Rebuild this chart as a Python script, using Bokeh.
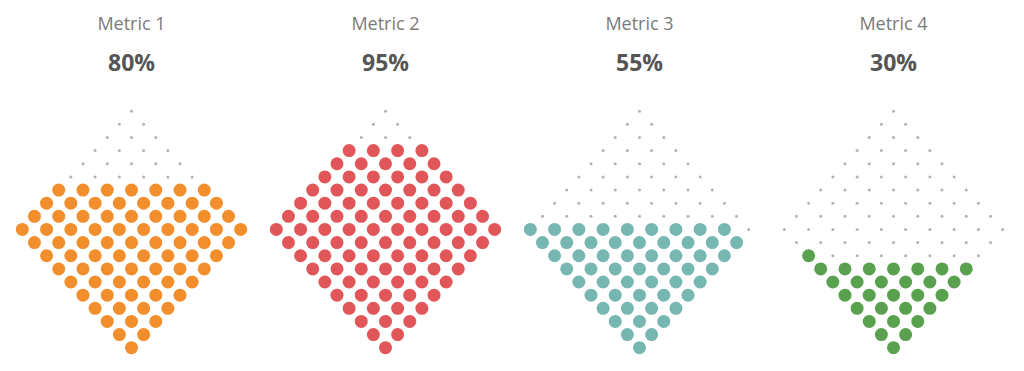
from bokeh.plotting import figure
from bokeh.models import Range1d, ColumnDataSource
from bokeh.core.properties import value
from bokeh.embed import file_html
from bokeh.resources import INLINE

# ---- data ----
metrics = ["Metric 1", "Metric 2", "Metric 3", "Metric 4"]
percents = [80, 95, 55, 30]
colors = ["#F28E2B", "#E15759", "#76B7B2", "#59A14F"]
empty_color = "#BAB0AC"

# ---- layout constants (pixels) ----
W, H = 1008, 355
CX0, STEP = 131, 254          # first panel centre, panel spacing
DX, DY = 12.13, 13.14         # half column step, row step
TOP_Y = 110.7                 # y of the top dot
N = 10                        # widest row -> 100 dots

p = figure(width=W, height=H, output_backend="svg", toolbar_location=None,
           x_range=Range1d(0, W), y_range=Range1d(H, 0),
           min_border=0, outline_line_color=None)
p.axis.visible = False
p.grid.visible = False
p.background_fill_color = "white"
p.border_fill_color = "white"

# rows from bottom: 1,2,...,10,...,2,1 ; filled bottom-up, left to right
row_counts = list(range(1, N + 1)) + list(range(N - 1, 0, -1))  # top to bottom
nrows = len(row_counts)

fx, fy, fc, ex, ey = [], [], [], [], []
for i, (name, pct, col) in enumerate(zip(metrics, percents, colors)):
    cx = CX0 + i * STEP
    idx = 0
    for r in range(nrows - 1, -1, -1):       # bottom row first
        k = row_counts[r]
        y = TOP_Y + r * DY
        for j in range(k):
            x = cx + (2 * j - (k - 1)) * DX
            if idx + 1 < pct:
                fx.append(x); fy.append(y); fc.append(col)
            else:
                ex.append(x); ey.append(y)
            idx += 1

p.scatter(ex, ey, size=3, color=empty_color, line_color=None)
p.scatter(x="x", y="y", color="c", size=13, line_color=None,
          source=ColumnDataSource(dict(x=fx, y=fy, c=fc)))

cxs = [CX0 + i * STEP for i in range(len(metrics))]
p.text(x=cxs, y=[22] * 4, text=metrics, text_align="center", text_baseline="middle",
       text_font=value("Open Sans"), text_font_size="18px", text_color="#7a7a7a")
p.text(x=cxs, y=[61] * 4, text=[f"{v}%" for v in percents], text_align="center",
       text_baseline="middle", text_font=value("Open Sans"), text_font_size="23px",
       text_font_style="bold", text_color="#555555")

open("out.html", "w").write(file_html(p, INLINE))
